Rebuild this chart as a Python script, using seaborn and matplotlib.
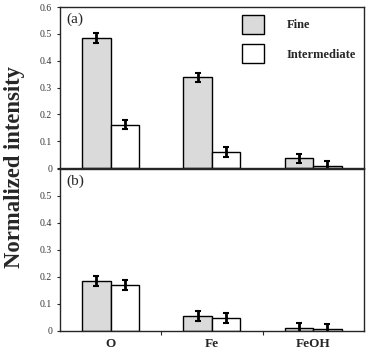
import pandas as pd
import numpy as np
import seaborn as sns
import matplotlib.pyplot as plt

# data
elements = ["O", "Fe", "FeOH"]
groups = ["Fine", "Intermediate"]
fine_a = [0.485, 0.338, 0.036]
inter_a = [0.162, 0.060, 0.007]
fine_a_err = [0.018, 0.018, 0.018]
inter_a_err = [0.018, 0.018, 0.018]
fine_b = [0.186, 0.055, 0.012]
inter_b = [0.171, 0.049, 0.009]
fine_b_err = [0.018, 0.018, 0.018]
inter_b_err = [0.018, 0.018, 0.018]
yticks = [0, 0.1, 0.2, 0.3, 0.4, 0.5, 0.6]
ytick_labels = ["0", "0.1", "0.2", "0.3", "0.4", "0.5", "0.6"]

sns.set_style("ticks")
plt.rcParams['font.family'] = ['Liberation Serif', 'DejaVu Serif']

fig = plt.figure(figsize=(3.74, 3.54), dpi=100)
ax1 = fig.add_axes([0.160, 0.525, 0.813, 0.455])
ax2 = fig.add_axes([0.160, 0.065, 0.813, 0.458])

colors = {"Fine": "#dadada", "Intermediate": "white"}

def panel(ax, fine, inter, ferr, ierr, tag, show_x):
    df = pd.DataFrame({
        "element": elements * 2,
        "group": [groups[0]] * 3 + [groups[1]] * 3,
        "value": fine + inter,
    })
    sns.barplot(data=df, x="element", y="value", hue="group", order=elements,
                hue_order=groups, palette=colors, edgecolor="black",
                linewidth=1.0, width=0.56, errorbar=None, legend=False, ax=ax)
    errs = ferr + ierr
    bars = ax.patches[:6]
    for p, e in zip(bars, errs):
        xc = p.get_x() + p.get_width() / 2
        ax.errorbar(xc, p.get_height(), yerr=e, fmt="none", ecolor="black",
                    elinewidth=2.0, capsize=2.2, capthick=1.5)
    ax.set_xlim(-0.5, 2.5)
    ax.set_ylim(0, 0.6)
    ax.set_yticks(yticks)
    ax.set_yticklabels(ytick_labels)
    if tag == "(b)":
        ax.get_yticklabels()[-1].set_visible(False)
    ax.tick_params(axis="y", labelsize=7, labelcolor="#333333", length=2.5,
                   width=0.8, pad=3)
    ax.set_xticks([0.5, 1.5], minor=False)
    ax.set_xticks([0, 1, 2], minor=True)
    ax.tick_params(axis="x", which="major", length=3, width=0.8, labelbottom=False)
    ax.tick_params(axis="x", which="minor", length=0)
    if show_x:
        ax.set_xticklabels([], minor=False)
        ax.set_xticklabels(elements, minor=True, fontsize=9.5, fontweight="bold")
        ax.tick_params(axis="x", which="minor", labelbottom=True, pad=5)
    ax.set_xlabel("")
    ax.set_ylabel("")
    for s in ax.spines.values():
        s.set_linewidth(1.0)
        s.set_visible(True)
    ax.text(0.022, 0.965, tag, transform=ax.transAxes, fontsize=11, va="top", ha="left")

panel(ax1, fine_a, inter_a, fine_a_err, inter_a_err, "(a)", False)
panel(ax2, fine_b, inter_b, fine_b_err, inter_b_err, "(b)", True)

ax1.legend(handles=ax1.patches[0:1] + ax1.patches[3:4], labels=groups,
           loc="upper right", bbox_to_anchor=(1.0, 1.0), frameon=False,
           handlelength=1.76, handleheight=1.9, labelspacing=0.85,
           handletextpad=1.8, borderaxespad=0.3, borderpad=0.35,
           prop={"size": 9, "weight": "bold"})

fig.text(0.04, 0.528, "Normalized intensity", rotation=90, va="center", ha="center",
         fontsize=16.3, fontweight="bold")

fig.savefig("out.png", dpi=100)
